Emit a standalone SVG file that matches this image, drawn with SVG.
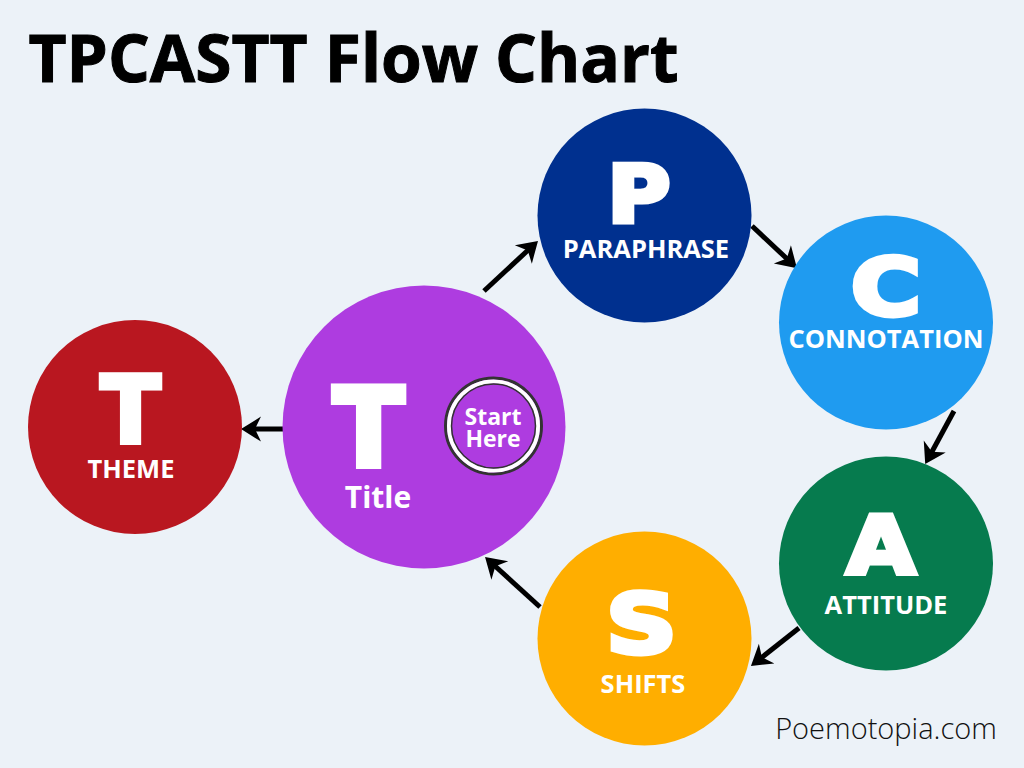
<svg xmlns="http://www.w3.org/2000/svg" width="1024" height="768" viewBox="0 0 1024 768">
<style>
.l{font-family:"Open Sans","Noto Sans",sans-serif;font-weight:700;fill:#fff;text-anchor:middle}
.b{font-family:"DejaVu Sans",sans-serif;font-weight:700;fill:#fff;text-anchor:middle;stroke:#fff;stroke-linejoin:miter}
.lab{font-size:25.500px}
.c{stroke:#000;stroke-width:5;fill:none;marker-end:url(#a)}
</style>
<defs><marker id="a" markerUnits="userSpaceOnUse" markerWidth="26" markerHeight="26" refX="13" refY="12.500" orient="auto"><path d="M22 12.500L2 0L8 12.500L2 25Z" fill="#000"/></marker></defs>
<rect width="1024" height="768" fill="#ecf2f8"/>
<text x="28.500" y="82" font-family="'Open Sans',sans-serif" font-weight="700" font-size="65.800" fill="#000" stroke="#000" stroke-width="1">TPCASTT Flow Chart</text>
<g id="connectors">
<path class="c" d="M484 291L531.400 247"/>
<path class="c" d="M752 226L790.400 262"/>
<path class="c" d="M954 411L929.500 456.200"/>
<path class="c" d="M799 628L758 660.400"/>
<path class="c" d="M540 607L491.700 563"/>
<path class="c" d="M283 429H250"/>
</g>
<g id="node-title"><circle cx="424" cy="427" r="141.500" fill="#ae3ce0"/>
<text class="b" transform="translate(368.500 466) scale(.96 1)" font-size="108" stroke-width="6">T</text>
<text class="l" x="378" y="508" font-size="30">Title</text>
<circle cx="493.500" cy="426" r="48" fill="#ae3ce0" stroke="#333" stroke-width="3"/><circle cx="493.500" cy="426" r="44.500" fill="none" stroke="#fff" stroke-width="4"/><circle cx="493.500" cy="426" r="42" fill="none" stroke="#333" stroke-width="1.500"/>
<text class="l" x="493" y="425" font-size="23">Start</text><text class="l" x="493" y="447" font-size="23">Here</text></g>
<g id="node-p"><circle cx="644.500" cy="215.500" r="107" fill="#00308f"/>
<text class="b" transform="translate(639 221.500) scale(1.100 1)" font-size="78" stroke-width="5">P</text>
<text class="l lab" x="646" y="258">PARAPHRASE</text></g>
<g id="node-c"><circle cx="886" cy="322.500" r="107" fill="#1f9bf0"/>
<text class="b" transform="translate(886 315) scale(1.220 1)" font-size="78" stroke-width="5">C</text>
<text class="l lab" x="886" y="348">CONNOTATION</text></g>
<g id="node-a"><circle cx="886" cy="563.500" r="107" fill="#067b4e"/>
<text class="b" transform="translate(881 573.500) scale(1.100 1)" font-size="81" stroke-width="5">A</text>
<text class="l lab" x="886" y="614">ATTITUDE</text></g>
<g id="node-s"><circle cx="644.500" cy="638.500" r="107" fill="#ffae00"/>
<text class="b" transform="translate(641.500 653) scale(1.200 1)" font-size="82" stroke-width="5">S</text>
<text class="l lab" x="643" y="693">SHIFTS</text></g>
<g id="node-theme"><circle cx="135" cy="427" r="107" fill="#b91720"/>
<text class="b" transform="translate(130.500 442.500) scale(.95 1)" font-size="92" stroke-width="5">T</text>
<text class="l lab" x="131" y="478">THEME</text></g>
<text x="886" y="739" font-family="'Open Sans',sans-serif" font-size="29" font-weight="300" fill="#111" text-anchor="middle">Poemotopia.com</text>
</svg>
